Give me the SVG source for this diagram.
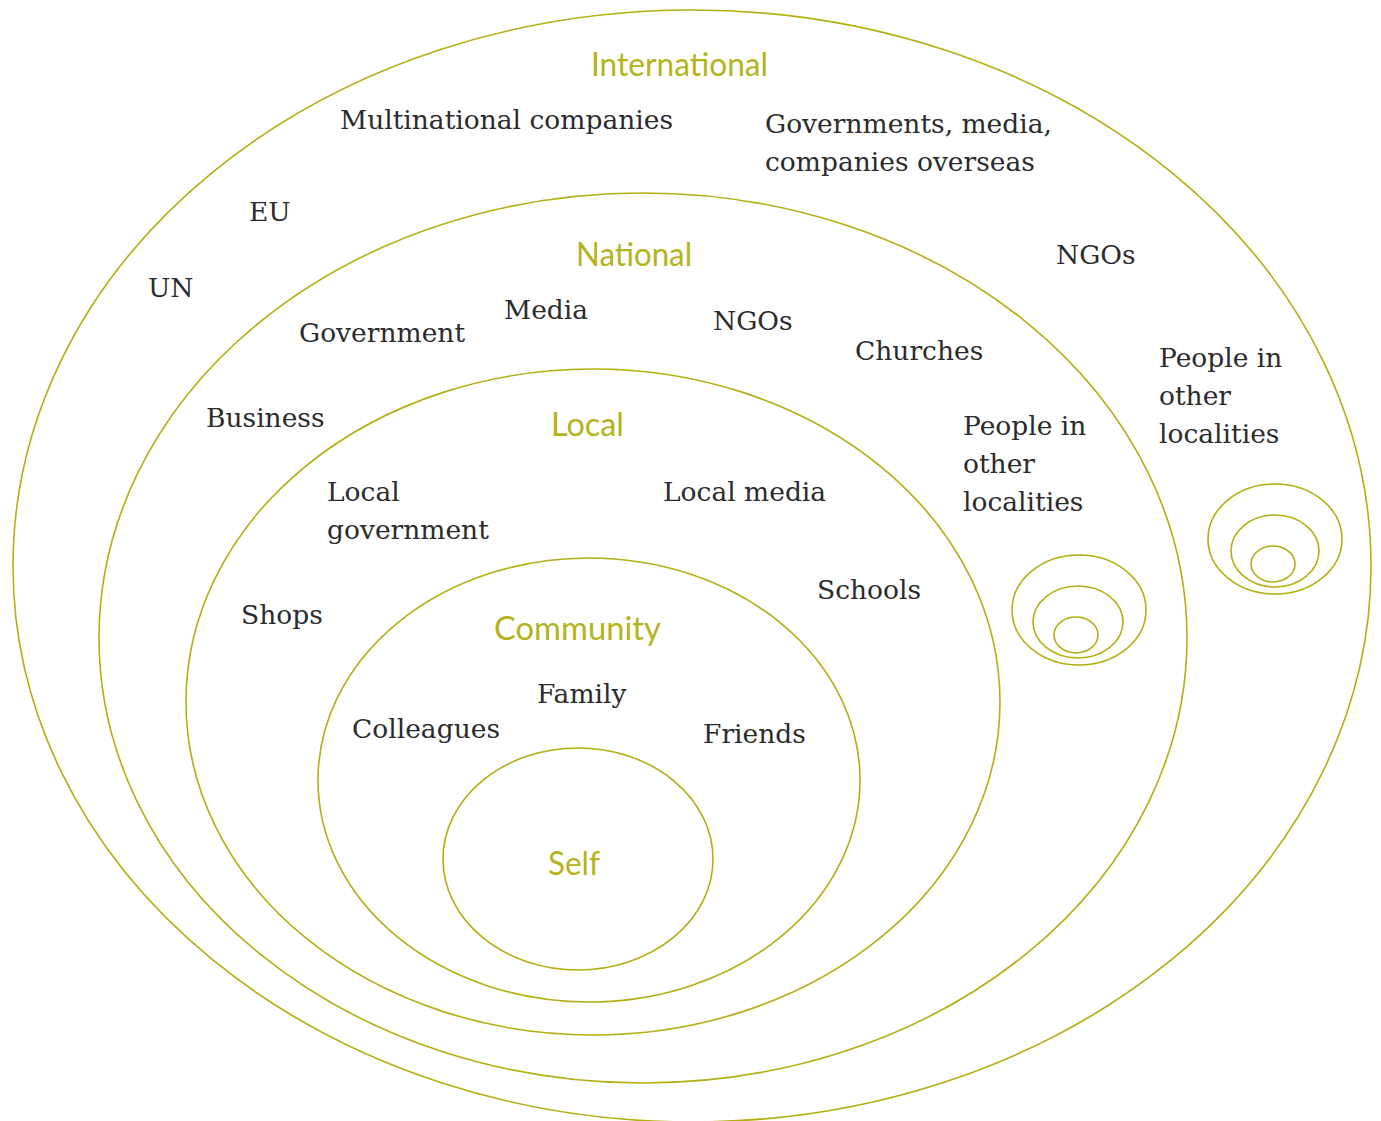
<svg xmlns="http://www.w3.org/2000/svg" width="1381" height="1121" viewBox="0 0 1381 1121">
<style>
.ring{fill:none;stroke:#b3ae12;stroke-width:1.6}
.t{font-family:"DejaVu Serif","Liberation Serif",serif;font-size:26.5px;fill:#2b2b2d}
.h{font-family:Lato,"Open Sans",sans-serif;font-size:33px;fill:#b5b31c}
</style>
<rect width="1381" height="1121" fill="#fff"/>
<g id="international">
<ellipse class="ring" cx="692" cy="566" rx="679" ry="556"/>
<text class="h" x="591" y="76" textLength="177" lengthAdjust="spacingAndGlyphs">International</text>
<text class="t" x="340" y="129">Multinational companies</text>
<text class="t" x="765" y="133">Governments, media,</text>
<text class="t" x="765" y="171">companies overseas</text>
<text class="t" x="249" y="221">EU</text>
<text class="t" x="148" y="297">UN</text>
<text class="t" x="1056" y="264">NGOs</text>
<text class="t" x="1159" y="367">People in</text>
<text class="t" x="1159" y="405">other</text>
<text class="t" x="1159" y="443">localities</text>
</g>
<g id="national">
<ellipse class="ring" cx="643" cy="638" rx="544" ry="445"/>
<text class="h" x="576" y="266" textLength="116" lengthAdjust="spacingAndGlyphs">National</text>
<text class="t" x="299" y="342">Government</text>
<text class="t" x="504" y="319">Media</text>
<text class="t" x="713" y="330">NGOs</text>
<text class="t" x="855" y="360">Churches</text>
<text class="t" x="206" y="427">Business</text>
<text class="t" x="963" y="435">People in</text>
<text class="t" x="963" y="473">other</text>
<text class="t" x="963" y="511">localities</text>
</g>
<g id="local">
<ellipse class="ring" cx="593" cy="702" rx="407" ry="333"/>
<text class="h" x="551" y="436" textLength="73" lengthAdjust="spacingAndGlyphs">Local</text>
<text class="t" x="327" y="501">Local</text>
<text class="t" x="327" y="539">government</text>
<text class="t" x="663" y="501">Local media</text>
<text class="t" x="817" y="599">Schools</text>
<text class="t" x="241" y="624">Shops</text>
</g>
<g id="community">
<ellipse class="ring" cx="589" cy="780" rx="271" ry="222"/>
<text class="h" x="494" y="640" textLength="167" lengthAdjust="spacingAndGlyphs">Community</text>
<text class="t" x="537" y="703">Family</text>
<text class="t" x="352" y="738">Colleagues</text>
<text class="t" x="703" y="743">Friends</text>
</g>
<g id="self">
<ellipse class="ring" cx="578" cy="859" rx="135" ry="111"/>
<text class="h" x="548" y="875" textLength="52" lengthAdjust="spacingAndGlyphs">Self</text>
</g>
<g id="other-localities-national">
<ellipse class="ring" cx="1079" cy="610" rx="67" ry="55"/>
<ellipse class="ring" cx="1078" cy="622" rx="45" ry="36"/>
<ellipse class="ring" cx="1076" cy="635" rx="22" ry="18"/>
</g>
<g id="other-localities-international">
<ellipse class="ring" cx="1275" cy="539" rx="67" ry="55"/>
<ellipse class="ring" cx="1275" cy="551" rx="44" ry="36"/>
<ellipse class="ring" cx="1273" cy="564" rx="22" ry="18"/>
</g>
<g id="connectors"/>
</svg>
